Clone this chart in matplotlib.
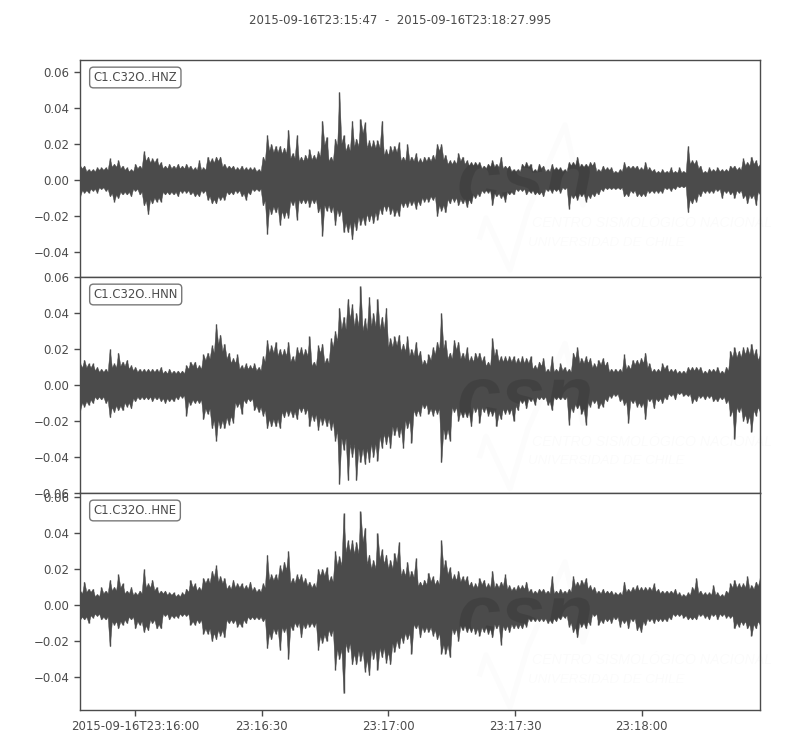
import numpy as np
import matplotlib
matplotlib.use("Agg")
import matplotlib.pyplot as plt
from matplotlib.font_manager import FontProperties
from matplotlib.patches import PathPatch
from matplotlib.textpath import TextPath
from matplotlib.transforms import Affine2D

# peak amplitudes per second, in units of 0.001
hnz_upper = [8,8,6,6,7,7,7,12,9,11,8,7,6,9,8,16,13,12,12,10,8,9,8,9,8,9,8,7,11,7,13,12,13,13,9,8,8,7,8,7,7,7,6,13,25,20,19,19,18,28,15,25,13,14,17,14,16,33,24,13,23,49,25,20,33,23,34,32,22,22,22,33,17,19,19,21,13,20,13,15,12,
             13,13,14,20,20,14,11,11,15,13,11,10,10,10,8,9,11,9,13,8,8,6,6,9,10,9,6,9,8,6,9,7,7,6,10,10,13,9,9,10,10,6,8,7,7,5,6,10,8,8,8,7,10,7,6,5,6,5,7,5,7,5,19,11,11,8,5,7,6,7,6,6,8,8,7,12,10,13,11,9]
hnz_lower = [9,7,7,6,7,5,6,9,12,10,8,8,9,6,8,14,19,13,12,12,8,8,8,9,7,7,8,9,9,7,11,13,13,11,11,8,8,7,9,11,8,6,6,14,30,19,18,25,21,21,14,22,13,13,15,13,18,31,17,18,25,20,29,29,33,28,25,25,23,24,22,19,17,19,20,20,15,15,14,16,14,
             12,12,11,20,17,18,13,12,14,13,15,13,10,9,7,7,14,9,10,12,8,8,6,6,8,7,8,8,9,6,7,6,7,5,16,10,11,9,12,10,9,8,6,5,5,5,5,9,9,7,9,9,9,7,7,7,7,5,6,5,4,4,18,13,12,9,7,7,7,6,10,7,8,10,7,10,13,10,14,8]
hnn_upper = [12,14,12,12,10,9,9,20,12,18,13,14,11,10,9,9,9,9,9,10,8,9,8,8,8,11,13,13,11,17,18,22,34,28,23,18,15,17,11,12,11,12,10,16,25,22,24,20,20,24,16,21,21,20,27,13,22,23,15,26,30,43,38,48,45,40,55,37,49,40,48,38,43,26,27,28,23,27,20,24,19,
             14,17,21,24,40,25,18,25,24,18,21,16,18,18,16,13,26,20,16,16,16,16,15,16,15,16,11,13,15,9,16,9,12,10,9,18,21,15,16,15,12,14,15,13,9,9,9,17,11,14,14,15,18,12,9,9,12,11,9,9,8,8,10,10,10,10,8,9,9,10,8,10,19,21,19,21,21,23,20,17]
hnn_lower = [14,12,11,10,8,8,10,18,15,14,14,12,13,9,8,8,8,9,8,9,10,9,9,8,7,17,11,10,10,19,16,24,31,24,24,22,21,12,16,10,9,14,15,17,24,23,23,24,18,17,18,19,15,16,23,20,25,22,23,25,31,55,36,53,40,53,43,44,43,40,42,35,33,35,28,29,35,24,32,17,17,
             13,16,17,16,43,30,31,15,20,18,18,23,15,21,15,17,17,23,19,16,16,20,14,10,13,9,11,8,8,11,14,8,8,8,22,15,13,16,22,12,10,13,12,9,7,6,9,11,21,10,12,12,19,9,13,9,10,8,6,8,5,6,6,10,9,7,8,7,9,9,8,10,17,30,15,20,21,26,17,15]
hne_upper = [8,13,9,9,6,10,8,14,10,17,12,8,10,7,8,20,12,14,10,8,8,7,7,6,7,9,14,12,10,15,15,19,22,16,15,11,14,12,12,11,13,10,9,12,28,17,17,22,24,30,15,17,17,15,13,12,20,20,21,16,30,27,51,36,36,35,52,43,28,25,40,31,28,25,29,35,20,24,19,26,13,
             14,18,16,14,36,25,21,17,19,16,16,13,12,15,14,12,19,12,13,17,11,10,11,11,13,9,8,9,9,8,16,8,9,8,9,16,13,14,15,11,10,8,9,8,8,7,7,13,9,10,11,10,10,10,12,9,8,8,8,9,7,6,7,10,15,8,7,7,11,7,6,8,12,14,12,12,16,11,13,15]
hne_lower = [8,8,10,7,6,8,8,23,11,13,11,10,8,13,11,15,14,10,13,13,6,8,7,7,6,6,11,11,10,16,16,20,19,17,18,10,10,12,12,10,8,8,8,9,24,19,16,25,15,30,14,12,18,13,12,12,25,21,20,17,36,30,49,26,33,33,31,37,39,30,36,29,32,33,26,24,21,19,27,13,18,
             15,15,17,19,27,27,29,16,20,14,15,15,16,17,15,16,18,13,22,14,15,13,13,13,12,9,9,9,9,10,10,9,8,7,12,15,18,12,13,11,6,11,10,9,10,8,12,10,13,9,14,15,11,9,10,9,9,9,8,6,6,7,8,8,8,6,7,8,6,8,6,7,7,13,12,11,13,17,13,11]

labels = ["C1.C32O..HNZ", "C1.C32O..HNN", "C1.C32O..HNE"]
title = "2015-09-16T23:15:47  -  2015-09-16T23:18:27.995"
duration = 160.995
tick_seconds = [13, 43, 73, 103, 133]
tick_labels = ["2015-09-16T23:16:00", "23:16:30", "23:17:00", "23:17:30", "23:18:00"]
ylims = [(-0.0539, 0.0667), (-0.06, 0.06), (-0.0583, 0.0622)]
yticks = [[-0.04, -0.02, 0, 0.02, 0.04, 0.06],
          [-0.06, -0.04, -0.02, 0, 0.02, 0.04, 0.06],
          [-0.04, -0.02, 0, 0.02, 0.04, 0.06]]
wm_line_x = [480, 486, 510, 528, 565, 583, 594]
wm_line_y = [237, 218, 270, 210, 125, 205, 170]

GRAY = "#4b4b4b"
W, H = 800, 750
fig = plt.figure(figsize=(8, 7.5), dpi=100, facecolor="white")
plt.rcParams["font.size"] = 8.5
uppers = [hnz_upper, hnn_upper, hne_upper]
lowers = [hnz_lower, hnn_lower, hne_lower]
edges = [(60, 277), (277, 493), (493, 710)]
csn_font = FontProperties(family="Liberation Sans", style="italic", weight="bold")
csn_path = TextPath((0, 0), "csn", size=79, prop=csn_font)


def teeth(t, a):
    """Sawtooth outline: each sample is a tooth, with a notch between neighbours."""
    a = np.asarray(a, float)
    xs = np.empty(2 * len(a) - 1)
    ys = np.empty(2 * len(a) - 1)
    xs[::2], ys[::2] = t, a
    xs[1::2] = (t[:-1] + t[1:]) / 2
    ys[1::2] = np.minimum(a[:-1], a[1:]) * 0.82
    return xs, ys


for k, (top, bottom) in enumerate(edges):
    ax = fig.add_axes([80 / W, 1 - bottom / H, 680 / W, (bottom - top) / H])
    up = np.array(uppers[k]) * 1e-3
    lo = np.array(lowers[k]) * 1e-3
    t = np.arange(len(up)) * duration / (len(up) - 1)
    xs, yu = teeth(t, up)
    _, yl = teeth(t, lo)
    body = ax.fill_between(xs, -yl, yu, color=GRAY, lw=0.3, zorder=2)
    ax.vlines(t, -lo, up, color=GRAY, lw=1.0, zorder=2)
    ax.set_xlim(0, duration)
    ax.set_ylim(*ylims[k])
    ax.set_yticks(yticks[k])
    ax.set_yticklabels([("%.2f" % v).replace("-", "\u2212") for v in yticks[k]])
    ax.set_xticks(tick_seconds)
    if k == 2:
        ax.set_xticklabels(tick_labels)
    else:
        ax.tick_params(axis="x", bottom=False, labelbottom=False)
    ax.tick_params(colors=GRAY, labelsize=8.5, length=4, width=1, labelcolor=GRAY)
    for s in ax.spines.values():
        s.set_color(GRAY)
        s.set_linewidth(1)
    ax.text(93.5 / W, 1 - (top + 17.5) / H, labels[k], transform=fig.transFigure,
            va="center", ha="left", fontsize=8.4, color=GRAY, zorder=6,
            bbox=dict(boxstyle="round,pad=0.33", fc="white", ec="#777777", lw=1))

    # faint centre logo
    dy = 218.5 * k
    fy = lambda y: 1 - (y + dy) / H
    ax.plot(np.array(wm_line_x) / W, [fy(y) for y in wm_line_y],
            transform=fig.transFigure, color="black", alpha=0.01, lw=4, zorder=1)
    for txt, x, y, fs in [("CENTRO SISMOLÓGICO NACIONAL", 532, 223, 10.2),
                          ("UNIVERSIDAD DE CHILE", 528, 243, 9.6)]:
        ax.text(x / W, fy(y), txt, transform=fig.transFigure, va="center",
                family="Liberation Sans", style="italic", fontsize=fs,
                color="black", alpha=0.014, zorder=1)
    # the big letters only show on top of the waveform
    patch = PathPatch(csn_path, fc="black", ec="none", alpha=0.12, zorder=3,
                      transform=Affine2D().translate(457, H - 203 - dy))
    fig.add_artist(patch)
    patch.set_clip_on(True)
    patch.set_clip_path(body.get_paths()[0], ax.transData)

fig.text(400 / W, 1 - 20.5 / H, title, ha="center", va="center", fontsize=8.5, color=GRAY)
fig.savefig("out.png", dpi=100, facecolor="white")
